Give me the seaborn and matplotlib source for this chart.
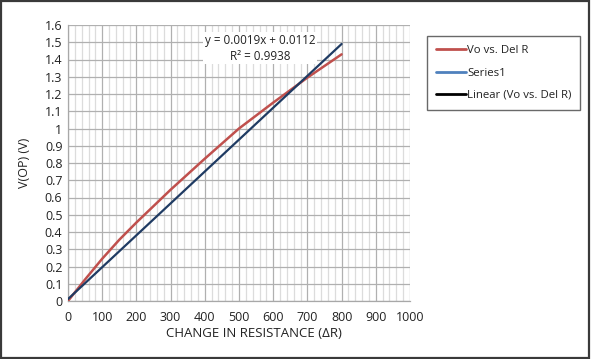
"""Output voltage vs change in resistance, with linear trendline."""

import matplotlib.pyplot as plt
import pandas as pd
import seaborn as sns
from matplotlib.lines import Line2D
from matplotlib.patches import Rectangle

delta_r = [0, 50, 100, 150, 200, 300, 400, 500, 600, 700, 800]
vo = [0.0, 0.125, 0.245, 0.355, 0.455, 0.645, 0.825, 1.0, 1.15, 1.295, 1.43]

# Series1 / linear trendline end points
trend_r = [0, 800]
trend_v = [0.0112, 1.49]

x_ticks = [0, 100, 200, 300, 400, 500, 600, 700, 800, 900, 1000]
y_ticks = [0.0, 0.1, 0.2, 0.3, 0.4, 0.5, 0.6, 0.7, 0.8, 0.9, 1.0,
           1.1, 1.2, 1.3, 1.4, 1.5, 1.6]
y_labels = ["0", "0.1", "0.2", "0.3", "0.4", "0.5", "0.6", "0.7", "0.8",
            "0.9", "1", "1.1", "1.2", "1.3", "1.4", "1.5", "1.6"]

RED = "#c0504d"
BLUE = "#4f81bd"
NAVY = "#1f3b63"
TEXT = "#222222"


def main() -> None:
    sns.set_style("white")
    plt.rcParams["font.family"] = ["Open Sans", "DejaVu Sans"]

    df = pd.DataFrame({"r": delta_r, "v": vo})
    trend = pd.DataFrame({"r": trend_r, "v": trend_v})

    fig = plt.figure(figsize=(5.91, 3.59), dpi=100)
    ax = fig.add_axes([68 / 591, 1 - 301 / 359, 342 / 591, 276 / 359])

    sns.lineplot(data=df, x="r", y="v", color=RED, linewidth=1.8, ax=ax, zorder=3)
    sns.lineplot(data=trend, x="r", y="v", color=NAVY, linewidth=1.6, ax=ax, zorder=4)

    ax.set_xlim(0, 1000)
    ax.set_ylim(0, 1.6)
    ax.set_xticks(x_ticks)
    ax.set_xticks(range(0, 1001, 20), minor=True)
    ax.set_yticks(y_ticks)
    ax.set_yticklabels(y_labels)
    ax.tick_params(axis="both", labelsize=9, colors=TEXT)
    ax.tick_params(axis="x", which="major", length=3, color="#a0a0a0", pad=4)
    ax.tick_params(axis="x", which="minor", length=0)
    ax.tick_params(axis="y", length=0, pad=4)

    ax.grid(which="minor", axis="x", color="#dcdcdc", linewidth=0.9)
    ax.grid(which="major", axis="both", color="#b0b0b0", linewidth=0.9)
    ax.set_axisbelow(True)
    for side in ["top", "right"]:
        ax.spines[side].set_visible(False)
    for side in ["left", "bottom"]:
        ax.spines[side].set_color("#a8a8a8")
        ax.spines[side].set_linewidth(0.9)

    ax.set_xlabel("CHANGE IN RESISTANCE (ΔR)", fontsize=9.5, color=TEXT)
    ax.xaxis.set_label_coords((254 - 68) / 342, (301 - 327) / 276)
    ax.set_ylabel("V(OP) (V)", fontsize=9, color=TEXT, labelpad=10)

    ax.text(562, 1.465, "y = 0.0019x + 0.0112\nR² = 0.9938", ha="center", va="center",
            fontsize=8.4, color=TEXT, linespacing=1.3, zorder=5,
            bbox=dict(facecolor="white", edgecolor="none", pad=1.2))

    handles = [
        Line2D([], [], color=RED, linewidth=2),
        Line2D([], [], color=BLUE, linewidth=2),
        Line2D([], [], color="black", linewidth=2),
    ]
    leg = fig.legend(handles, ["Vo vs. Del R", "Series1", "Linear (Vo vs. Del R)"],
                     loc="upper left", bbox_to_anchor=(427 / 591, 1 - 36 / 359),
                     bbox_transform=fig.transFigure, fontsize=8.2, frameon=True,
                     fancybox=False, handlelength=2.6, handletextpad=0.1,
                     labelspacing=1.0, borderpad=0.8, borderaxespad=0)
    leg.get_frame().set_edgecolor("#444444")
    leg.get_frame().set_linewidth(1.0)
    for t in leg.get_texts():
        t.set_color(TEXT)

    fig.patches.append(Rectangle((0.001, 0.003), 0.996, 0.995, transform=fig.transFigure,
                                 fill=False, edgecolor="#3a3a3a", linewidth=1.6))

    fig.savefig("out.png", dpi=100, facecolor="white")
    plt.close(fig)


if __name__ == "__main__":
    main()
